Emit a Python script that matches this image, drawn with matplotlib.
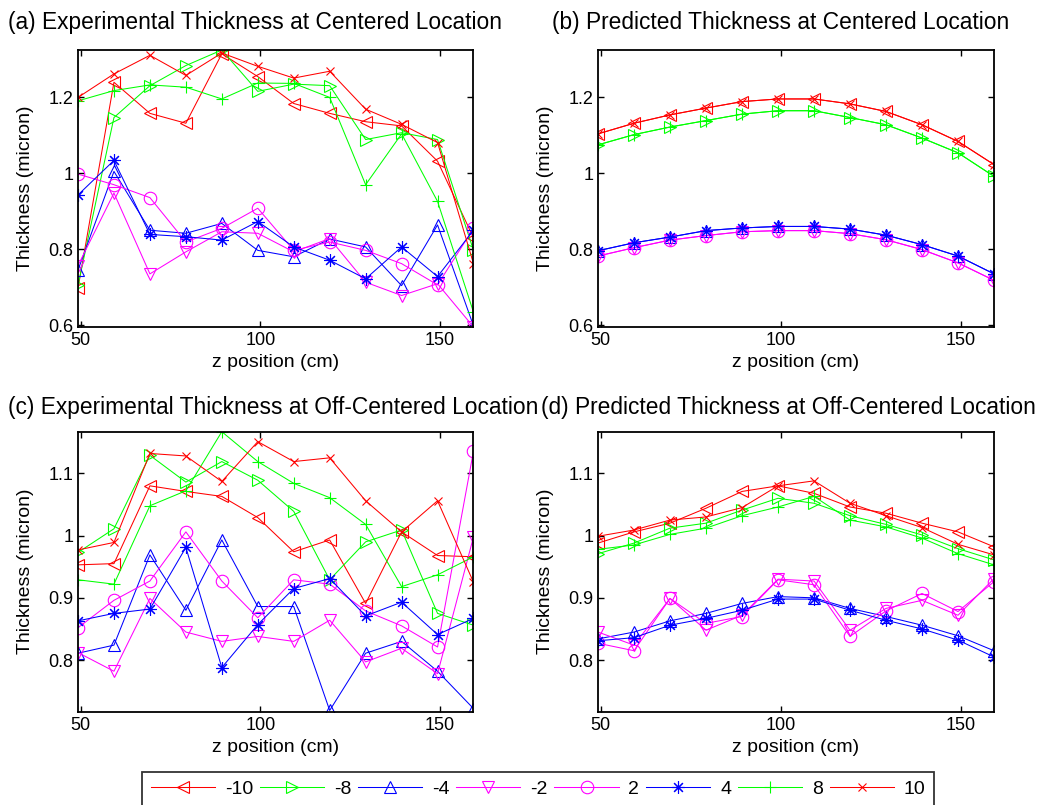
import numpy as np
import matplotlib
matplotlib.use('Agg')
import matplotlib.pyplot as plt
from matplotlib.ticker import FormatStrFormatter

plt.rc('font', family=['Liberation Sans', 'DejaVu Sans'], size=13)

# z positions (cm)
z = [49.3, 59.3, 69.3, 79.3, 89.3, 99.3, 109.3, 119.3, 129.3, 139.3, 149.3, 159.3]

labels = ['-10', '-8', '-4', '-2', '2', '4', '8', '10']
colors = ['#ff0000', '#00ff00', '#0000ff', '#ff00ff',
          '#ff00ff', '#0000ff', '#00ff00', '#ff0000']
markers = ['<', '>', '^', 'v', 'o', (8, 2, 0), '+', 'x']
msizes = [9, 9, 9, 9, 9, 9, 9, 6]

# (a) experimental, centered
exp_c_m10 = [0.697, 1.240, 1.158, 1.132, 1.315, 1.255, 1.184, 1.158, 1.136, 1.125, 1.032, 0.830]
exp_c_m8 = [0.705, 1.147, 1.231, 1.284, 1.325, 1.216, 1.235, 1.231, 1.089, 1.107, 1.089, 0.797]
exp_c_m4 = [0.745, 1.005, 0.850, 0.842, 0.868, 0.797, 0.780, 0.827, 0.806, 0.704, 0.864, 0.598]
exp_c_m2 = [0.757, 0.948, 0.735, 0.793, 0.846, 0.842, 0.793, 0.828, 0.713, 0.678, 0.709, 0.595]
exp_c_p2 = [0.998, 0.970, 0.936, 0.819, 0.855, 0.908, 0.797, 0.819, 0.797, 0.762, 0.706, 0.855]
exp_c_p4 = [0.943, 1.034, 0.839, 0.833, 0.824, 0.873, 0.806, 0.771, 0.722, 0.806, 0.728, 0.850]
exp_c_p8 = [1.191, 1.218, 1.233, 1.227, 1.196, 1.238, 1.237, 1.200, 0.970, 1.104, 0.926, 0.634]
exp_c_p10 = [1.200, 1.262, 1.311, 1.258, 1.317, 1.282, 1.251, 1.269, 1.169, 1.129, 1.081, 0.762]

# (b) predicted, centered
pred_c_m10 = [1.104, 1.132, 1.154, 1.172, 1.189, 1.196, 1.196, 1.183, 1.163, 1.128, 1.084, 1.023]
pred_c_m8 = [1.075, 1.102, 1.122, 1.139, 1.156, 1.165, 1.165, 1.147, 1.128, 1.093, 1.054, 0.992]
pred_c_m4 = [0.796, 0.817, 0.832, 0.849, 0.856, 0.860, 0.860, 0.853, 0.837, 0.812, 0.782, 0.735]
pred_c_m2 = [0.782, 0.804, 0.824, 0.836, 0.846, 0.849, 0.849, 0.841, 0.825, 0.799, 0.764, 0.718]
pred_c_p2 = [0.782, 0.804, 0.824, 0.836, 0.846, 0.849, 0.849, 0.841, 0.825, 0.799, 0.764, 0.718]
pred_c_p4 = [0.796, 0.817, 0.832, 0.849, 0.856, 0.860, 0.860, 0.853, 0.837, 0.812, 0.782, 0.735]
pred_c_p8 = [1.075, 1.102, 1.122, 1.139, 1.156, 1.165, 1.165, 1.147, 1.128, 1.093, 1.054, 0.992]
pred_c_p10 = [1.104, 1.132, 1.154, 1.172, 1.189, 1.196, 1.196, 1.183, 1.163, 1.128, 1.084, 1.023]

# (c) experimental, off-centered
exp_o_m10 = [0.953, 0.955, 1.080, 1.071, 1.063, 1.029, 0.974, 0.993, 0.891, 1.006, 0.968, 0.966]
exp_o_m8 = [0.973, 1.011, 1.129, 1.086, 1.119, 1.089, 1.039, 0.929, 0.990, 1.009, 0.875, 0.856]
exp_o_m4 = [0.811, 0.824, 0.969, 0.880, 0.993, 0.886, 0.886, 0.719, 0.811, 0.830, 0.782, 0.722]
exp_o_m2 = [0.812, 0.782, 0.899, 0.845, 0.830, 0.838, 0.830, 0.864, 0.797, 0.819, 0.778, 0.998]
exp_o_p2 = [0.852, 0.896, 0.927, 1.006, 0.927, 0.868, 0.929, 0.922, 0.879, 0.855, 0.821, 1.136]
exp_o_p4 = [0.863, 0.875, 0.882, 0.981, 0.788, 0.857, 0.915, 0.931, 0.871, 0.893, 0.841, 0.867]
exp_o_p8 = [0.929, 0.922, 1.048, 1.072, 1.167, 1.119, 1.084, 1.061, 1.018, 0.918, 0.937, 0.966]
exp_o_p10 = [0.977, 0.989, 1.132, 1.128, 1.087, 1.151, 1.119, 1.125, 1.056, 1.006, 1.056, 0.925]

# (d) predicted, off-centered
pred_o_m10 = [0.988, 1.006, 1.020, 1.044, 1.071, 1.080, 1.068, 1.046, 1.036, 1.020, 1.006, 0.982]
pred_o_m8 = [0.971, 0.988, 1.012, 1.020, 1.041, 1.060, 1.052, 1.032, 1.018, 1.001, 0.979, 0.961]
pred_o_m4 = [0.834, 0.845, 0.863, 0.875, 0.891, 0.902, 0.900, 0.883, 0.870, 0.856, 0.839, 0.815]
pred_o_m2 = [0.845, 0.824, 0.899, 0.848, 0.872, 0.930, 0.927, 0.848, 0.883, 0.896, 0.872, 0.931]
pred_o_p2 = [0.827, 0.815, 0.899, 0.859, 0.870, 0.929, 0.921, 0.838, 0.879, 0.907, 0.878, 0.926]
pred_o_p4 = [0.831, 0.836, 0.856, 0.867, 0.880, 0.898, 0.898, 0.880, 0.864, 0.850, 0.832, 0.805]
pred_o_p8 = [0.978, 0.985, 1.002, 1.012, 1.032, 1.046, 1.063, 1.025, 1.014, 0.996, 0.971, 0.953]
pred_o_p10 = [0.999, 1.009, 1.025, 1.030, 1.045, 1.080, 1.088, 1.052, 1.032, 1.013, 0.986, 0.969]

panels = [
    ('(a) Experimental Thickness at Centered Location',
     [exp_c_m10, exp_c_m8, exp_c_m4, exp_c_m2, exp_c_p2, exp_c_p4, exp_c_p8, exp_c_p10],
     (0.595, 1.325), [0.6, 0.8, 1.0, 1.2]),
    ('(b) Predicted Thickness at Centered Location',
     [pred_c_m10, pred_c_m8, pred_c_m4, pred_c_m2, pred_c_p2, pred_c_p4, pred_c_p8, pred_c_p10],
     (0.595, 1.325), [0.6, 0.8, 1.0, 1.2]),
    ('(c) Experimental Thickness at Off-Centered Location',
     [exp_o_m10, exp_o_m8, exp_o_m4, exp_o_m2, exp_o_p2, exp_o_p4, exp_o_p8, exp_o_p10],
     (0.717, 1.167), [0.8, 0.9, 1.0, 1.1]),
    ('(d) Predicted Thickness at Off-Centered Location',
     [pred_o_m10, pred_o_m8, pred_o_m4, pred_o_m2, pred_o_p2, pred_o_p4, pred_o_p8, pred_o_p10],
     (0.717, 1.167), [0.8, 0.9, 1.0, 1.1]),
]

W, H = 1041, 805
fig = plt.figure(figsize=(W / 100, H / 100), dpi=100)

# axes boxes in pixels: left, top, right, bottom
boxes = [(78, 50, 473.5, 327), (598, 50, 994, 327),
         (78, 431.7, 473.5, 711.7), (598, 431.7, 994, 711.7)]
title_xy = [(8, 22), (552, 22), (8, 407), (541, 407)]

handles = []
for k, (title, series, ylim, yticks) in enumerate(panels):
    l, t, r, b = boxes[k]
    ax = fig.add_axes([l / W, 1 - b / H, (r - l) / W, (b - t) / H])
    for i, ys in enumerate(series):
        ln, = ax.plot(z, ys, color=colors[i], marker=markers[i], lw=0.75,
                      ms=msizes[i], mfc='none', mew=0.8, label=labels[i])
        if k == 0:
            handles.append(ln)
    ax.set_xlim(z[0], z[-1])
    ax.set_ylim(*ylim)
    ax.set_xticks([50, 100, 150])
    ax.set_yticks(yticks)
    ax.yaxis.set_major_formatter(FormatStrFormatter('%g'))
    ax.tick_params(direction='in', top=True, right=True, length=4, width=1,
                   labelsize=13)
    for sp in ax.spines.values():
        sp.set_linewidth(1.3)
    ax.set_xlabel('z position (cm)', fontsize=14, labelpad=4)
    ax.set_ylabel('Thickness (micron)', fontsize=14, labelpad=10)
    tx, ty = title_xy[k]
    fig.text(tx / W, 1 - ty / H, title, fontsize=16.4, ha='left', va='center')

leg = fig.legend(handles, labels, loc='upper left', ncol=8, mode='expand',
                 bbox_to_anchor=(142 / W, 0, (934 - 142) / W, 1 - 771.7 / H),
                 fontsize=14, handlelength=3.3, handletextpad=0.5,
                 frameon=True, fancybox=False, edgecolor='black',
                 borderaxespad=0, borderpad=0.45)
leg.get_frame().set_linewidth(1.3)

fig.savefig('out.png', dpi=100)
